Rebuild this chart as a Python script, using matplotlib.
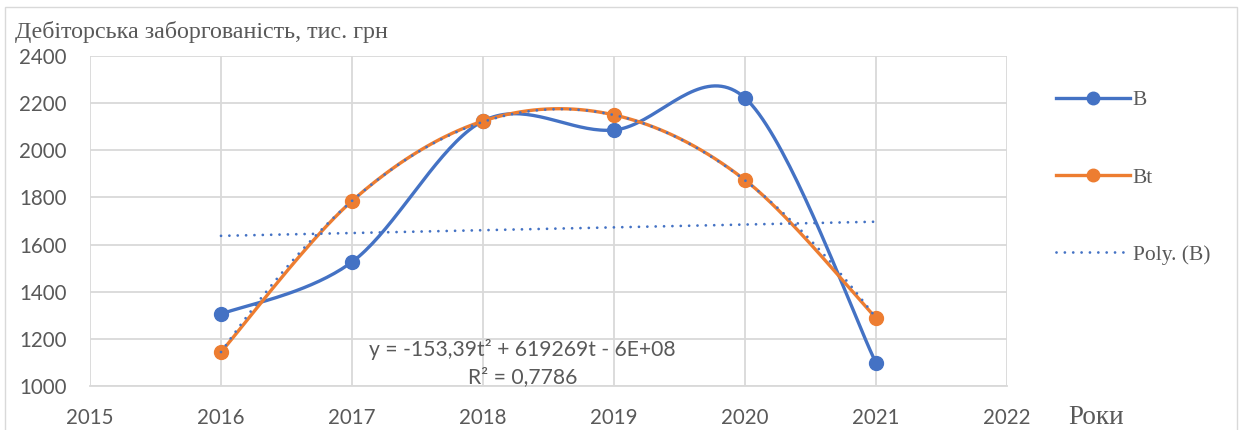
import numpy as np
import matplotlib
matplotlib.use("Agg")
import matplotlib.pyplot as plt
from matplotlib.lines import Line2D
from matplotlib.patches import Rectangle

years = [2016, 2017, 2018, 2019, 2020, 2021]
b_values = [1305, 1526, 2124, 2086, 2222, 1098]
bt_values = [1144, 1785, 2124, 2150, 1874, 1288]
flat_trend_years = [2016, 2021]
flat_trend_values = [1637, 1697]

x_ticks = [2015, 2016, 2017, 2018, 2019, 2020, 2021, 2022]
y_ticks = [1000, 1200, 1400, 1600, 1800, 2000, 2200, 2400]

BLUE = "#4472C4"
ORANGE = "#ED7D31"
GREY_TEXT = "#595959"
GRID = "#D9D9D9"


def smooth(xs, ys, n=40):
    # cubic Bezier through the points (Catmull-Rom style, like spreadsheet smoothed lines)
    pts = np.column_stack([xs, ys]).astype(float)
    out = []
    for i in range(len(pts) - 1):
        p0 = pts[max(i - 1, 0)]
        p1 = pts[i]
        p2 = pts[i + 1]
        p3 = pts[min(i + 2, len(pts) - 1)]
        c1 = p1 + (p2 - p0) / 6
        c2 = p2 - (p3 - p1) / 6
        t = np.linspace(0, 1, n)[:, None]
        seg = (1 - t) ** 3 * p1 + 3 * (1 - t) ** 2 * t * c1 + 3 * (1 - t) * t ** 2 * c2 + t ** 3 * p2
        out.append(seg if i == 0 else seg[1:])
    s = np.vstack(out)
    return s[:, 0], s[:, 1]


fig = plt.figure(figsize=(12.41, 4.30), dpi=100)
fig.patches.append(Rectangle((5 / 1241, -0.1), 1232 / 1241, 1.1 - 7 / 430,
                             transform=fig.transFigure, fill=False,
                             edgecolor=GRID, linewidth=1))
ax = fig.add_axes([90 / 1241, 44 / 430, 917 / 1241, 330 / 430])

ax.set_xlim(2015, 2022)
ax.set_ylim(1000, 2400)
ax.set_xticks(x_ticks)
ax.set_yticks(y_ticks)
ax.grid(True, color=GRID, linewidth=1.3)
ax.set_axisbelow(True)
for side in ["top", "right", "left"]:
    ax.spines[side].set_visible(False)
ax.spines["bottom"].set_color(GRID)
ax.spines["bottom"].set_linewidth(1.3)
ax.tick_params(length=0, labelsize=14.8, labelcolor=GREY_TEXT)
ax.tick_params(axis="x", pad=16)
ax.tick_params(axis="y", pad=17)
for lbl in ax.get_xticklabels() + ax.get_yticklabels():
    lbl.set_family("Lato")

# actual values
sx, sy = smooth(years, b_values)
ax.plot(sx, sy, color=BLUE, linewidth=2.4, solid_capstyle="round", zorder=3)
ax.plot(years, b_values, "o", color=BLUE, markersize=10, zorder=3)

# theoretical values
sx, sy = smooth(years, bt_values)
ax.plot(sx, sy, color=ORANGE, linewidth=2.4, solid_capstyle="round", zorder=4)
ax.plot(years, bt_values, "o", color=ORANGE, markersize=10, zorder=4)

# quadratic trend of B
yr = np.array(years, dtype=float)
coef = np.polyfit(yr - 2018.5, b_values, 2)
tx = np.linspace(2016, 2021, 200)
ax.plot(tx, np.polyval(coef, tx - 2018.5), color=BLUE, linewidth=2.0,
        linestyle=(0, (0.01, 3.0)), dash_capstyle="round", zorder=5)
ax.plot(flat_trend_years, flat_trend_values, color=BLUE, linewidth=2.0,
        linestyle=(0, (0.01, 3.0)), dash_capstyle="round", zorder=5)

ax.text(2018.3, 1155, "y = -153,39t² + 619269t - 6E+08", ha="center", va="center",
        fontsize=15.2, color=GREY_TEXT, family="Lato", zorder=6)
ax.text(2018.3, 1037, "R² = 0,7786", ha="center", va="center",
        fontsize=15.2, color=GREY_TEXT, family="Lato", zorder=6)

fig.text(15 / 1241, 1 - 32 / 430, "Дебіторська заборгованість, тис. грн", ha="left",
         va="center", fontsize=17.3, color=GREY_TEXT, family="Liberation Serif")
fig.text(1068 / 1241, 1 - 417 / 430, "Роки", ha="left", va="center",
         fontsize=19.5, color=GREY_TEXT, family="Liberation Serif")

handles = [
    Line2D([], [], color=BLUE, linewidth=2.4, marker="o", markersize=9),
    Line2D([], [], color=ORANGE, linewidth=2.4, marker="o", markersize=9),
    Line2D([], [], color=BLUE, linewidth=2.0, linestyle=(0, (0.01, 3.0)),
           dash_capstyle="round"),
]
fig.legend(handles, ["B", "Bt", "Poly. (B)"], loc="upper left",
           bbox_to_anchor=(1037 / 1241, 1 - 71 / 430), frameon=False,
           prop={"family": "Liberation Serif", "size": 15.5}, labelcolor=GREY_TEXT,
           handlelength=3.4, handletextpad=0.15, labelspacing=2.65)

fig.savefig("out.png", dpi=100)
